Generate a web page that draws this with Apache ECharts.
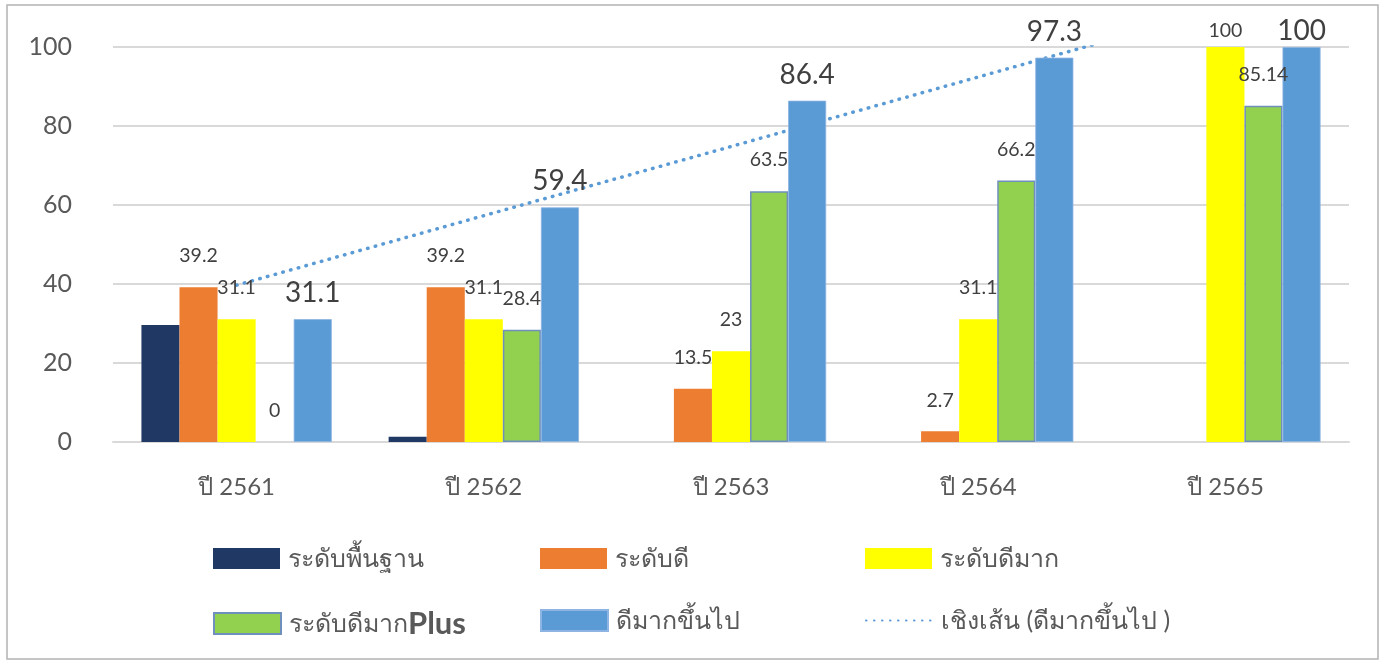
<!DOCTYPE html>
<html>
<head>
<meta charset="utf-8">
<script src="https://cdn.jsdelivr.net/npm/echarts@6/dist/echarts.min.js"></script>
<style>
html,body{margin:0;padding:0;background:#fff;}
#chart{width:1384px;height:664px;}
</style>
</head>
<body>
<div id="chart"></div>
<script>
// ---- data ----
const categories = ['ปี 2561', 'ปี 2562', 'ปี 2563', 'ปี 2564', 'ปี 2565'];
const seriesNames = ['ระดับพื้นฐาน', 'ระดับดี', 'ระดับดีมาก', 'ระดับดีมากPlus', 'ดีมากขึ้นไป', 'เชิงเส้น (ดีมากขึ้นไป )'];
const basicLevel = [29.6, 1.3, null, null, null];
const goodLevel = [39.2, 39.2, 13.5, 2.7, null];
const veryGoodLevel = [31.1, 31.1, 23, 31.1, 100];
const veryGoodPlusLevel = [0, 28.4, 63.5, 66.2, 85.14];
const veryGoodUp = [31.1, 59.4, 86.4, 97.3, 100];
const trendVeryGoodUp = [39.7, 57.3, 74.8, 92.4, 110.0];
const yMin = 0, yMax = 100, yStep = 20;

const FONT = 'Lato, "Noto Sans", "DejaVu Sans", sans-serif';
const smallLabel = {show: true, position: 'top', distance: 21, color: '#404040', fontSize: 19.5, fontFamily: FONT};
const bigLabel = {show: true, position: 'top', distance: 12, color: '#404040', fontSize: 28, fontFamily: FONT};

// labels of bars reaching the top of the axis are pulled down to stay inside the chart
function clampTop(arr, dist) {
  return arr.map(function (v) { return v !== null && v >= yMax ? {value: v, label: {distance: dist}} : v; });
}

const chart = echarts.init(document.getElementById('chart'), null, {renderer: 'canvas'});

function legendAt(name, left, top, isLine) {
  const item = isLine
    ? {name: name, itemStyle: {color: 'rgba(0,0,0,0)', borderWidth: 0, opacity: 0}}
    : {name: name, icon: 'rect'};
  return {
    data: [item], left: left, top: top, padding: 0,
    itemWidth: 67, itemHeight: 21, itemGap: 0,
    selectedMode: false,
    textStyle: {
      color: '#595959', fontSize: 25, fontFamily: FONT, padding: [0, 0, 0, 3],
      rich: {b: {fontWeight: 'bold', fontSize: 31, color: '#595959', fontFamily: FONT}}
    },
    formatter: function (n) { return n.indexOf('Plus') >= 0 ? 'ระดับดีมาก{b|Plus}' : n; }
  };
}

const option = {
  animation: false,
  backgroundColor: '#ffffff',
  graphic: [{
    type: 'rect', shape: {x: 7, y: 5, width: 1371, height: 654},
    style: {fill: null, stroke: '#b3b3b3', lineWidth: 1.5}, silent: true
  }],
  grid: {left: 113, right: 35, top: 47, bottom: 222, containLabel: false},
  legend: [
    legendAt(seriesNames[0], 213, 546, false),
    legendAt(seriesNames[1], 540, 546, false),
    legendAt(seriesNames[2], 865, 546, false),
    legendAt(seriesNames[3], 213, 608, false),
    legendAt(seriesNames[4], 540, 608, false),
    legendAt(seriesNames[5], 865, 608, true)
  ],
  xAxis: {
    type: 'category', data: categories,
    axisLine: {show: true, lineStyle: {color: '#d9d9d9', width: 2}},
    axisTick: {show: false},
    axisLabel: {color: '#595959', fontSize: 24, fontFamily: FONT, margin: 33}
  },
  yAxis: {
    type: 'value', min: yMin, max: yMax, interval: yStep,
    axisLine: {show: false}, axisTick: {show: false},
    splitLine: {lineStyle: {color: '#d9d9d9', width: 2}},
    axisLabel: {color: '#595959', fontSize: 25, fontFamily: FONT, margin: 41}
  },
  series: [
    {name: seriesNames[0], type: 'bar', data: basicLevel, barGap: '0%', barCategoryGap: '23%',
      itemStyle: {color: '#203864'}},
    {name: seriesNames[1], type: 'bar', data: goodLevel,
      itemStyle: {color: '#ED7D31'}, label: smallLabel},
    {name: seriesNames[2], type: 'bar', data: clampTop(veryGoodLevel, 6),
      itemStyle: {color: '#FFFF00'}, label: smallLabel},
    {name: seriesNames[3], type: 'bar',
      data: veryGoodPlusLevel.map(function (v) { return v === 0 ? {value: v, itemStyle: {borderWidth: 0}} : v; }),
      itemStyle: {color: '#92D050', borderColor: '#6f8fbd', borderWidth: 1.5}, label: smallLabel},
    {name: seriesNames[4], type: 'bar', data: clampTop(veryGoodUp, 2),
      itemStyle: {color: '#5B9BD5', borderColor: '#8db4e2', borderWidth: 0.8}, label: bigLabel},
    {name: seriesNames[5], type: 'line', data: trendVeryGoodUp, symbol: 'none', clip: true,
      z: 1,
      lineStyle: {color: '#5B9BD5', width: 3.5, type: [0.5, 7.5], cap: 'round'},
      itemStyle: {color: '#5B9BD5'}}
  ]
};
chart.setOption(option);
</script>
</body>
</html>
